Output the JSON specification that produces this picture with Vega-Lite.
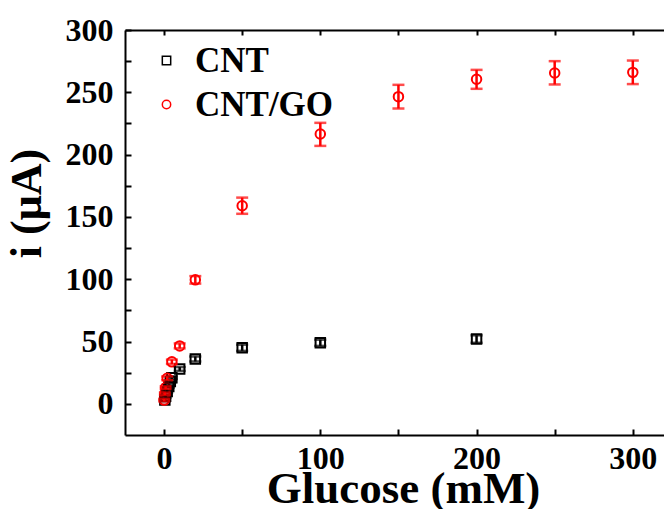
{
  "$schema": "https://vega.github.io/schema/vega-lite/v6.json",
  "width": 540,
  "height": 405,
  "autosize": "none",
  "padding": {"left": 125, "top": 30, "right": 0, "bottom": 74},
  "background": "white",
  "config": {"view": {"stroke": null}, "font": "Liberation Serif"},
  "data": {
    "values": [
      {"series": "CNT", "conc": 0.5, "i": 3, "lo": 2, "hi": 4},
      {"series": "CNT", "conc": 1, "i": 6, "lo": 5, "hi": 7},
      {"series": "CNT", "conc": 2, "i": 10, "lo": 9, "hi": 11},
      {"series": "CNT", "conc": 3, "i": 14, "lo": 13, "hi": 15},
      {"series": "CNT", "conc": 4, "i": 18, "lo": 17, "hi": 19},
      {"series": "CNT", "conc": 5, "i": 21, "lo": 20, "hi": 22},
      {"series": "CNT", "conc": 10, "i": 28, "lo": 26.5, "hi": 29.5},
      {"series": "CNT", "conc": 20, "i": 36, "lo": 34, "hi": 38},
      {"series": "CNT", "conc": 50, "i": 45, "lo": 42.5, "hi": 47.5},
      {"series": "CNT", "conc": 100, "i": 49, "lo": 46.5, "hi": 51.5},
      {"series": "CNT", "conc": 200, "i": 52, "lo": 49, "hi": 55},
      {"series": "CNT/GO", "conc": 0.1, "i": 3, "lo": 2, "hi": 4},
      {"series": "CNT/GO", "conc": 0.5, "i": 8, "lo": 7, "hi": 9},
      {"series": "CNT/GO", "conc": 1, "i": 13, "lo": 12, "hi": 14},
      {"series": "CNT/GO", "conc": 2, "i": 20.5, "lo": 19, "hi": 22},
      {"series": "CNT/GO", "conc": 5, "i": 33.7, "lo": 32, "hi": 35.5},
      {"series": "CNT/GO", "conc": 10, "i": 46.5, "lo": 44.5, "hi": 48.5},
      {"series": "CNT/GO", "conc": 20, "i": 99.5, "lo": 96.5, "hi": 102.5},
      {"series": "CNT/GO", "conc": 50, "i": 159, "lo": 152.5, "hi": 165.5},
      {"series": "CNT/GO", "conc": 100, "i": 216.5, "lo": 207, "hi": 225.5},
      {"series": "CNT/GO", "conc": 150, "i": 246.5, "lo": 237, "hi": 256},
      {"series": "CNT/GO", "conc": 200, "i": 260.5, "lo": 252.8, "hi": 268},
      {"series": "CNT/GO", "conc": 250, "i": 265.5, "lo": 256.3, "hi": 275},
      {"series": "CNT/GO", "conc": 300, "i": 266, "lo": 256.6, "hi": 275.5}
    ]
  },
  "layer": [
    {
      "mark": {"type": "point", "filled": false, "strokeWidth": 2, "size": 90, "opacity": 1},
      "encoding": {
        "x": {
          "field": "conc", "type": "quantitative",
          "scale": {"domain": [-25, 320.6], "nice": false, "zero": false},
          "axis": {
            "title": "Glucose (mM)",
            "values": [0, 50, 100, 150, 200, 250, 300],
            "labelExpr": "datum.value % 100 === 0 ? datum.label : ''",
            "domain": true, "domainWidth": 2, "domainColor": "black", "grid": false,
            "ticks": true, "tickSize": -6, "tickWidth": 2, "tickColor": "black",
            "labelFont": "Liberation Serif", "labelFontSize": 32, "labelFontWeight": "bold", "labelColor": "black",
            "labelPadding": 14,
            "titleFont": "Liberation Serif", "titleFontSize": 45, "titleFontWeight": "bold", "titleColor": "black",
            "titleBaseline": "alphabetic", "titleX": 278, "titleY": 67
          }
        },
        "y": {
          "field": "i", "type": "quantitative",
          "scale": {"domain": [-25, 300], "nice": false, "zero": false},
          "axis": {
            "title": "i (μA)",
            "values": [0, 25, 50, 75, 100, 125, 150, 175, 200, 225, 250, 275, 300],
            "labelExpr": "datum.value % 50 === 0 ? datum.label : ''",
            "domain": true, "domainWidth": 2, "domainColor": "black", "grid": false,
            "ticks": true, "tickSize": -6, "tickWidth": 2, "tickColor": "black",
            "labelFont": "Liberation Serif", "labelFontSize": 32, "labelFontWeight": "bold", "labelColor": "black",
            "labelPadding": 18,
            "titleFont": "Liberation Serif", "titleFontSize": 44, "titleFontWeight": "bold", "titleColor": "black",
            "titlePadding": 16, "titleY": 173
          }
        },
        "shape": {
          "field": "series", "type": "nominal",
          "scale": {"domain": ["CNT", "CNT/GO"], "range": ["square", "circle"]},
          "legend": {
            "orient": "none", "legendX": 24, "legendY": 13, "title": null, "padding": 0,
            "labelFont": "Liberation Serif", "labelFontSize": 35, "labelFontWeight": "bold", "labelColor": "black",
            "symbolSize": 70, "symbolStrokeWidth": 1.5, "rowPadding": 8, "labelOffset": 11
          }
        },
        "color": {
          "field": "series", "type": "nominal",
          "scale": {"domain": ["CNT", "CNT/GO"], "range": ["black", "#ff0000"]},
          "legend": {
            "orient": "none", "legendX": 24, "legendY": 13, "title": null, "padding": 0,
            "labelFont": "Liberation Serif", "labelFontSize": 35, "labelFontWeight": "bold", "labelColor": "black",
            "symbolSize": 70, "symbolStrokeWidth": 1.5, "rowPadding": 8, "labelOffset": 11
          }
        }
      }
    },
    {
      "transform": [{"filter": "datum.series === 'CNT'"}],
      "mark": {"type": "errorbar", "ticks": true, "size": 12, "thickness": 2.5, "color": "black"},
      "encoding": {
        "x": {
          "field": "conc", "type": "quantitative",
          "scale": {"domain": [-25, 320.6], "nice": false, "zero": false},
          "axis": {
            "title": null, "labels": false, "grid": false,
            "domain": true, "domainWidth": 2, "domainColor": "black",
            "values": [0, 50, 100, 150, 200, 250, 300],
            "ticks": true, "tickSize": -5, "tickWidth": 2, "tickColor": "black"
          }
        },
        "y": {
          "field": "lo", "type": "quantitative",
          "scale": {"domain": [-25, 300], "nice": false, "zero": false},
          "axis": null
        },
        "y2": {"field": "hi"}
      }
    },
    {
      "transform": [{"filter": "datum.series === 'CNT/GO'"}],
      "mark": {"type": "errorbar", "ticks": true, "size": 12, "thickness": 2.5, "color": "#ff0000"},
      "encoding": {
        "x": {
          "field": "conc", "type": "quantitative",
          "scale": {"domain": [-25, 320.6], "nice": false, "zero": false},
          "axis": null
        },
        "y": {
          "field": "lo", "type": "quantitative",
          "scale": {"domain": [-25, 300], "nice": false, "zero": false},
          "axis": null
        },
        "y2": {"field": "hi"}
      }
    }
  ],
  "resolve": {"axis": {"x": "independent", "y": "independent"}}
}
